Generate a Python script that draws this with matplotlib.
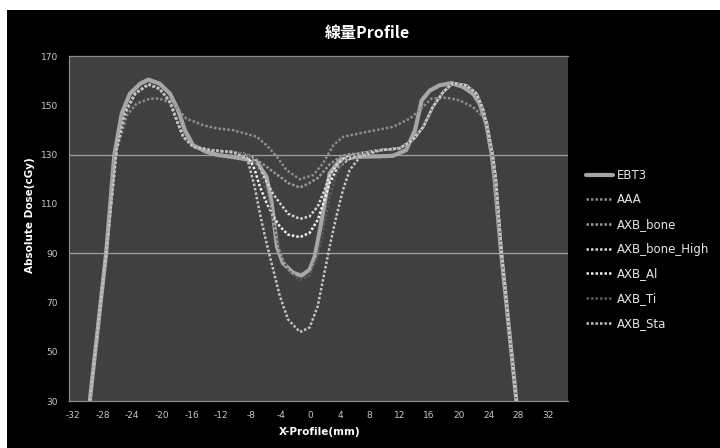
import matplotlib
matplotlib.use("Agg")
import matplotlib.pyplot as plt
from matplotlib.patches import Rectangle

plt.rcParams['axes.unicode_minus'] = False

# measured film (EBT3)
ebt3_x = [-29.7, -28.6, -27.5, -26.4, -25.4, -24.3, -22.9, -21.8, -20.3, -18.9, -17.8, -16.9,
          -15.8, -14.0, -12.4, -10.4, -8.5, -7.2, -5.9, -5.2, -4.5, -3.7, -2.3, -1.2, -0.1,
          0.6, 1.3, 2.0, 2.6, 4.0, 6.2, 9.4, 11.1, 12.9, 14.1, 15.0, 16.1, 17.4, 19.0, 20.6,
          21.9, 22.8, 23.7, 24.4, 24.8, 25.7, 26.8, 27.75]
ebt3_y = [30, 60, 90, 129.8, 146.6, 154.7, 158.8, 160.4, 158.8, 154.7, 148, 139.9,
          133.8, 131.1, 129.8, 129, 128, 127, 121, 110.3, 92.7, 86, 82, 80.9, 83.3,
          88.7, 99.5, 111.6, 122.4, 127.8, 129.1, 129.3, 129.5, 131.8, 139.9, 152, 156, 158.1, 159, 157.4,
          154.7, 150.7, 142.6, 130.5, 120.4, 90, 58, 30]

# AAA
aaa_x = [-29.7, -28.6, -27.5, -26.3, -24.7, -23.4, -21.6, -20.3, -18.5, -16.7, -14.4, -12.6,
         -10.4, -7.2, -5.9, -4.5, -3.2, -1.4, 0.4, 1.7, 3.1, 4.4, 7.6, 11.1, 13.4, 14.7,
         16.3, 18.3, 20.1, 21.9, 23.3, 24.3, 25.7, 26.8, 27.75]
aaa_y = [30, 60, 90, 130, 146, 150.7, 152.7, 152.7, 150.7, 144.6, 141.9, 140.6,
         139.9, 137.2, 133.8, 129.1, 123.7, 120, 121.7, 126.4, 133.8, 137.2, 139.2, 141.2, 144.6, 148,
         152.7, 153.1, 152, 149.3, 145.3, 135, 90, 58, 30]

# AXB series share one x grid
axb_x = [-29.7, -28.6, -27.5, -26.1, -25.0, -23.6, -21.8, -20.3, -18.9, -18.0, -17.1, -15.8,
         -13.5, -10.5, -8.5, -7.5, -6.8, -5.9, -5.0, -4.1, -3.0, -1.4, -0.1, 1.0, 1.9, 2.6,
         3.5, 4.4, 5.3, 6.7, 9.4, 12.0, 13.8, 15.2, 16.5, 17.9, 19.2, 21.0, 22.4, 23.3,
         23.9, 24.6, 25.0, 25.7, 26.8, 27.75]
axb_bone = [30, 60, 90, 131.8, 146.6, 154.7, 158.5, 156.7, 151.3, 143.9, 137.2, 133.2,
            131.8, 131, 130, 128.5, 127, 125.1, 123, 121, 118.5, 116.6, 118.5, 120.5, 123.5, 126,
            128, 129.5, 130.2, 130.5, 131.8, 132.5, 135.9, 141.2, 149.3, 155.4, 159, 158.1, 154.7, 148,
            139.9, 129.1, 119.7, 92, 58, 30]
axb_bone_high = [30, 60, 90, 131.8, 146.6, 154.7, 158.5, 156.7, 151.3, 143.9, 137.2, 133.2,
                 131.8, 131, 130, 127.5, 124, 119, 114, 110.3, 106, 103.9, 104.9, 109, 115.5, 121.7,
                 125.5, 128.3, 129.5, 130.5, 131.8, 132.5, 135.9, 141.2, 149.3, 155.4, 159, 158.1, 154.7, 148,
                 139.9, 129.1, 119.7, 92, 58, 30]
axb_al = [30, 60, 90, 131.8, 146.6, 154.7, 158.5, 156.7, 151.3, 143.9, 137.2, 133.2,
          131.8, 131, 130, 124, 117, 110.5, 105, 100.8, 97.5, 96.5, 98.2, 103.5, 111.6, 118.5,
          123.5, 126.4, 128.5, 130.5, 131.8, 132.5, 135.9, 141.2, 149.3, 155.4, 159, 158.1, 154.7, 148,
          139.9, 129.1, 119.7, 92, 58, 30]
axb_ti = [30, 60, 90, 131.8, 146.6, 154.7, 158.5, 156.7, 151.3, 143.9, 137.2, 133.2,
          131.8, 131, 130, 127, 123, 115, 103, 91, 83, 79, 81, 89, 102, 113,
          122, 127, 129, 130.5, 131.8, 132.5, 135.9, 141.2, 149.3, 155.4, 159, 158.1, 154.7, 148,
          139.9, 129.1, 119.7, 92, 58, 30]
axb_sta = [30, 60, 90, 131.8, 146.6, 154.7, 158.5, 156.7, 151.3, 143.9, 137.2, 133.2,
           131.8, 131, 128.5, 117, 106.2, 94.1, 83.3, 72.5, 63.1, 58, 59.8, 68.5, 82, 92.7,
           104.9, 115.7, 123.7, 129.1, 131.8, 132.5, 135.9, 141.2, 149.3, 155.4, 159, 158.1, 154.7, 148,
           139.9, 129.1, 119.7, 92, 58, 30]

x_ticks = list(range(-32, 33, 4))
y_ticks = list(range(30, 171, 20))

fig = plt.figure(figsize=(7.2, 4.48), dpi=100, facecolor="white")
# black chart background, leaving a thin white margin top and left
fig.patches.append(Rectangle((7 / 720, 0), 1, 1 - 10 / 448, transform=fig.transFigure,
                             facecolor="black", edgecolor="none", zorder=-10))

ax = fig.add_axes([69 / 720, 47 / 448, 499 / 720, 345 / 448])
ax.set_facecolor("#404040")

dots = (0, (1, 0.8))
ax.plot(ebt3_x, ebt3_y, color="#a6a6a6", lw=3.0, solid_capstyle="round", label="EBT3")
ax.plot(aaa_x, aaa_y, color="#8c8c8c", lw=1.8, linestyle=dots, label="AAA")
ax.plot(axb_x, axb_bone, color="#9a9a9a", lw=1.8, linestyle=dots, label="AXB_bone")
ax.plot(axb_x, axb_bone_high, color="#d6d6d6", lw=1.8, linestyle=dots, label="AXB_bone_High")
ax.plot(axb_x, axb_al, color="#f2f2f2", lw=1.8, linestyle=dots, label="AXB_Al")
ax.plot(axb_x, axb_ti, color="#5c5c5c", lw=1.8, linestyle=dots, label="AXB_Ti")
ax.plot(axb_x, axb_sta, color="#c4c4c4", lw=1.8, linestyle=dots, label="AXB_Sta")

ax.set_xlim(-32.5, 34.7)
ax.set_ylim(30, 170)
ax.set_xticks(x_ticks)
ax.set_yticks(y_ticks)
ax.tick_params(length=0, labelsize=6.5, labelcolor="#c8c8c8")
ax.tick_params(axis="y", pad=8)
ax.tick_params(axis="x", pad=7)

for yv in (90, 130):
    ax.axhline(yv, color="#a0a0a0", lw=0.9, zorder=1)

for side in ("top", "bottom", "left"):
    ax.spines[side].set_color("#8a8a8a")
    ax.spines[side].set_linewidth(0.9)
ax.spines["right"].set_visible(False)

fig.text(367 / 720, 1 - 33 / 448, "線量Profile", ha="center", va="center", color="white",
         fontsize=11.5, fontweight="bold", family=["Noto Sans CJK JP", "DejaVu Sans"])
fig.text(30 / 720, 1 - 215 / 448, "Absolute Dose(cGy)", ha="center", va="center",
         rotation=90, color="white", fontsize=7.5, fontweight="bold")
fig.text(320 / 720, 1 - 432 / 448, "X-Profile(mm)", ha="center", va="center",
         color="white", fontsize=7.5, fontweight="bold")

leg = ax.legend(loc="upper left", bbox_to_anchor=(581 / 720, 1 - 164 / 448),
                bbox_transform=fig.transFigure, frameon=False, fontsize=8.5,
                labelcolor="#e6e6e6", handlelength=2.3, handletextpad=0.35,
                labelspacing=0.99, borderaxespad=0)

fig.savefig("out.png", dpi=100, facecolor=fig.get_facecolor())
